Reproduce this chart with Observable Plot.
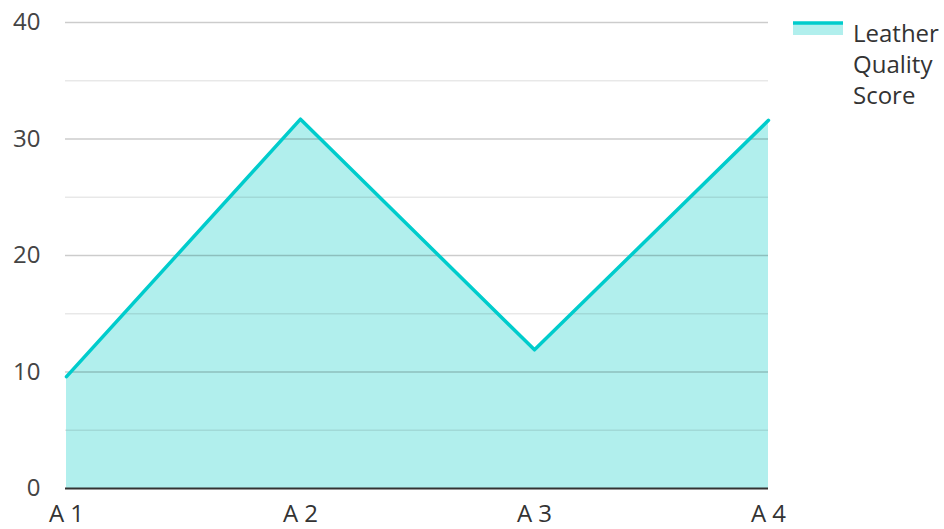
<!DOCTYPE html>
<html>
<head>
<meta charset="utf-8">
<script src="https://cdn.jsdelivr.net/npm/d3@7"></script>
<script src="https://cdn.jsdelivr.net/npm/@observablehq/plot@0.6"></script>
<style>
  html, body { margin: 0; padding: 0; background: #fff; }
  #wrap { position: relative; width: 944px; height: 529px; font-family: "Open Sans", sans-serif; }
  #legend { position: absolute; left: 793px; top: 17px; display: flex; align-items: flex-start; }
  #legend .txt { margin-left: 10px; width: 91px; font-size: 24px; line-height: 31px; color: #333; }
  #legend svg { margin-top: 2px; flex: none; }
</style>
</head>
<body>
<div id="wrap"></div>
<script>
const categories = ["A 1", "A 2", "A 3", "A 4"];
const scores = [9.6, 31.7, 11.9, 31.6];
const seriesName = "Leather Quality Score";
const majorTicks = [0, 10, 20, 30, 40];
const minorTicks = [5, 15, 25, 35];

const data = categories.map((c, i) => ({cat: c, value: scores[i]}));
const lineColor = "#00cccc";
const fillColor = "#b1efed";

const chart = Plot.plot({
  width: 944,
  height: 529,
  marginTop: 22,
  marginBottom: 41,
  marginLeft: 65,
  marginRight: 176,
  style: {fontFamily: "Open Sans, sans-serif", fontSize: "24px", color: "#444", background: "#fff"},
  x: {type: "point", domain: categories, padding: 0},
  y: {domain: [0, 40]},
  marks: [
    Plot.areaY(data, {x: "cat", y: "value", fill: fillColor}),
    Plot.ruleY(minorTicks, {stroke: "#000", strokeOpacity: 0.09, strokeWidth: 1.5}),
    Plot.ruleY(majorTicks.filter(d => d > 0), {stroke: "#000", strokeOpacity: 0.2, strokeWidth: 1.5}),
    Plot.lineY(data, {x: "cat", y: "value", stroke: lineColor, strokeWidth: 3.5}),
    Plot.ruleY([0], {stroke: "#333", strokeWidth: 2}),
    Plot.axisY({ticks: majorTicks, tickSize: 0, tickPadding: 25, fontSize: 24, label: null, fill: "#444"}),
    Plot.axisX({tickSize: 0, tickPadding: 16, fontSize: 24, label: null, fill: "#333"})
  ]
});

const wrap = document.getElementById("wrap");
wrap.appendChild(chart);

const legend = document.createElement("div");
legend.id = "legend";
legend.innerHTML = `<svg width="50" height="16"><rect x="0" y="5" width="50" height="11" fill="${fillColor}"></rect><line x1="0" x2="50" y1="4" y2="4" stroke="${lineColor}" stroke-width="3.5"></line></svg><div class="txt"></div>`;
legend.querySelector(".txt").textContent = seriesName;
wrap.appendChild(legend);
</script>
</body>
</html>
